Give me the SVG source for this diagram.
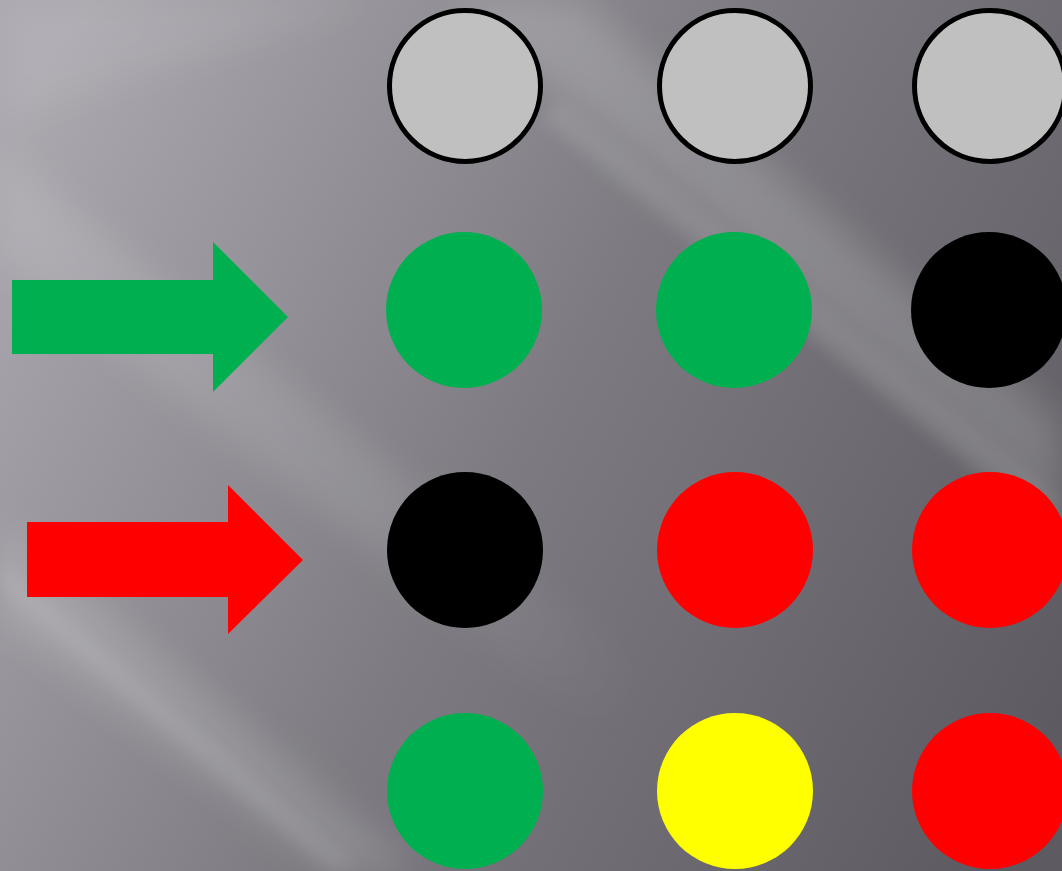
<svg xmlns="http://www.w3.org/2000/svg" width="1062" height="871" viewBox="0 0 1062 871">
  <defs>
    <linearGradient id="bg" x1="0" y1="150" x2="1062" y2="720" gradientUnits="userSpaceOnUse">
      <stop offset="0" stop-color="#aba8af"/>
      <stop offset="0.5" stop-color="#7d7b81"/>
      <stop offset="1" stop-color="#5d5b61"/>
    </linearGradient>
    <linearGradient id="fade" x1="0" y1="200" x2="650" y2="700" gradientUnits="userSpaceOnUse">
      <stop offset="0" stop-color="#fff" stop-opacity="0.12"/>
      <stop offset="0.6" stop-color="#fff" stop-opacity="0.10"/>
      <stop offset="1" stop-color="#fff" stop-opacity="0"/>
    </linearGradient>
    <filter id="blur" filterUnits="userSpaceOnUse" x="-100" y="-100" width="1262" height="1071">
      <feGaussianBlur stdDeviation="18"/>
    </filter>
    <filter id="blur2" filterUnits="userSpaceOnUse" x="-100" y="-100" width="1262" height="1071">
      <feGaussianBlur stdDeviation="8"/>
    </filter>
  </defs>
  <style>
    .ring { fill: #c0c0c0; stroke: #000; stroke-width: 5; }
    .green { fill: #00b050; }
    .red { fill: #ff0000; }
    .black { fill: #000; }
    .yellow { fill: #ffff00; }
    .streak { fill: #ffffff; }
  </style>

  <g id="background">
    <rect x="0" y="0" width="1062" height="871" fill="url(#bg)"/>
    <g filter="url(#blur)">
      <polygon class="streak" opacity="0.16" points="450,0 580,0 1062,420 1062,520"/>
      <polygon fill="url(#fade)" points="0,150 0,260 640,760 680,700"/>
      <polygon class="streak" opacity="0.14" points="0,520 0,620 330,871 420,871"/>
      <polygon class="streak" opacity="0.08" points="0,0 380,0 0,120"/>
    </g>
    <g filter="url(#blur2)">
      <polygon class="streak" opacity="0.10" points="540,120 560,100 1062,500 1062,540"/>
      <polygon class="streak" opacity="0.08" points="0,560 0,590 330,871 360,871"/>
    </g>
  </g>

  <g id="arrow-green">
    <polygon class="green" points="12,280 213,280 213,242 288,317 213,392 213,354 12,354"/>
  </g>
  <g id="arrow-red">
    <polygon class="red" points="27,522 228,522 228,485 303,560 228,634 228,597 27,597"/>
  </g>

  <g id="node-r1c1"><circle class="ring" cx="465" cy="86" r="75.5"/></g>
  <g id="node-r1c2"><circle class="ring" cx="735" cy="86" r="75.5"/></g>
  <g id="node-r1c3"><circle class="ring" cx="990" cy="86" r="75.5"/></g>

  <g id="node-r2c1"><circle class="green" cx="464" cy="310" r="78"/></g>
  <g id="node-r2c2"><circle class="green" cx="734" cy="310" r="78"/></g>
  <g id="node-r2c3"><circle class="black" cx="989" cy="310" r="78"/></g>

  <g id="node-r3c1"><circle class="black" cx="465" cy="550" r="78"/></g>
  <g id="node-r3c2"><circle class="red" cx="735" cy="550" r="78"/></g>
  <g id="node-r3c3"><circle class="red" cx="990" cy="550" r="78"/></g>

  <g id="node-r4c1"><circle class="green" cx="465" cy="791" r="78"/></g>
  <g id="node-r4c2"><circle class="yellow" cx="735" cy="791" r="78"/></g>
  <g id="node-r4c3"><circle class="red" cx="990" cy="791" r="78"/></g>

  <g id="connectors"/>
</svg>
